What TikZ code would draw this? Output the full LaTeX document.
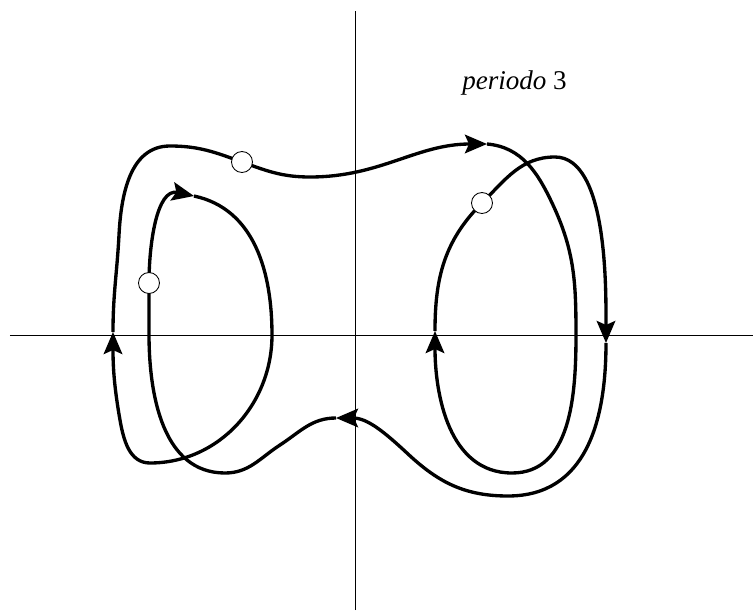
\documentclass[tikz,border=0pt]{standalone}
\usepackage{fontspec}
\setmainfont{Liberation Serif}
\usetikzlibrary{arrows.meta}

\tikzset{
  axis/.style={line width=0.45pt},
  orbit/.style={line width=1.9pt, line join=round},
  flow/.style={-{Stealth[length=4.4mm,width=3.7mm,inset=0.8mm]}},
  marker/.style={circle, draw, fill=white, line width=0.5pt, minimum size=4.2mm, inner sep=0pt}
}

\begin{document}
\begin{tikzpicture}

    \useasboundingbox (-7.10,-5.50) rectangle (7.96,6.70);

    % ==========================================
    % AXES
    % ==========================================

    \coordinate (xl) at (-6.90, 0);
    \coordinate (xr) at (7.96, 0);
    \coordinate (yb) at (0, -5.50);
    \coordinate (yt) at (0, 6.48);

    \draw[axis] (xl) -- (xr);
    \draw[axis] (yb) -- (yt);

    % ==========================================
    % ORBIT: points along the closed curve
    % ==========================================

    % Arrow tips
    \coordinate (A1) at (-4.84, 0.06);  % outer left, up
    \coordinate (A2) at (2.64, 3.82);   % top, right
    \coordinate (A3) at (1.60, 0.08);   % inner right, up
    \coordinate (A4) at (5.02, -0.16);  % outer right, down
    \coordinate (A5) at (-0.38, -1.66); % bottom middle, left
    \coordinate (A6) at (-3.22, 2.78);  % inner left, right

    % Marked points
    \coordinate (C1) at (-2.26, 3.46);
    \coordinate (C2) at (-4.12, 1.04);
    \coordinate (C3) at (2.54, 2.64);

    % Way points
    \coordinate (W1) at (-4.72, 2.00);
    \coordinate (W2) at (-3.70, 3.78);
    \coordinate (W3) at (-0.90, 3.16);
    \coordinate (W4) at (3.96, 2.60);
    \coordinate (R1) at (4.42, 0.00);
    \coordinate (B1) at (3.14, -2.76);
    \coordinate (T)  at (4.00, 3.56);
    \coordinate (B2) at (3.06, -3.22);
    \coordinate (M1) at (1.06, -2.38);
    \coordinate (M2) at (-1.50, -2.20);
    \coordinate (B3) at (-2.60, -2.76);
    \coordinate (L1) at (-4.12, 0.02);
    \coordinate (R2) at (-1.66, 0.00);
    \coordinate (B4) at (-4.10, -2.56);
    \coordinate (K)  at (-4.70, -1.70);

    % Curve, one piece per arrow
    \draw[orbit, flow] (A1) to[out=90,in=267] (W1) to[out=87,in=180] (W2)
        to[out=0,in=160] (C1) to[out=-20,in=180] (W3) to[out=0,in=180] (A2);
    \draw[orbit, flow] (A2) to[out=-5,in=115] (W4) to[out=-65,in=90] (R1)
        to[out=270,in=0] (B1) to[out=180,in=270] (A3);
    \draw[orbit, flow] (A3) to[out=90,in=225] (C3) to[out=45,in=180] (T)
        to[out=0,in=90,looseness=0.7] (A4);
    \draw[orbit, flow] (A4) to[out=270,in=0,looseness=1.1] (B2)
        to[out=180,in=-43] (M1) to[out=137,in=0] (A5);
    \draw[orbit, flow] (A5) to[out=180,in=33] (M2) to[out=213,in=0] (B3)
        to[out=180,in=270] (L1) -- (C2) to[out=90,in=168] (A6);
    \draw[orbit, flow] (A6) to[out=-12,in=90] (R2) to[out=270,in=0] (B4)
        to[out=180,in=280] (K) to[out=100,in=270] (A1);

    % Marked points
    \node[marker] (m1) at (C1) {};
    \node[marker] (m2) at (C2) {};
    \node[marker] (m3) at (C3) {};

    % Label
    \node[anchor=base, inner sep=0pt, font=\fontsize{15.4}{18}\selectfont] (lbl) at (3.19, 4.92) {\textit{periodo} 3};

\end{tikzpicture}
\end{document}
